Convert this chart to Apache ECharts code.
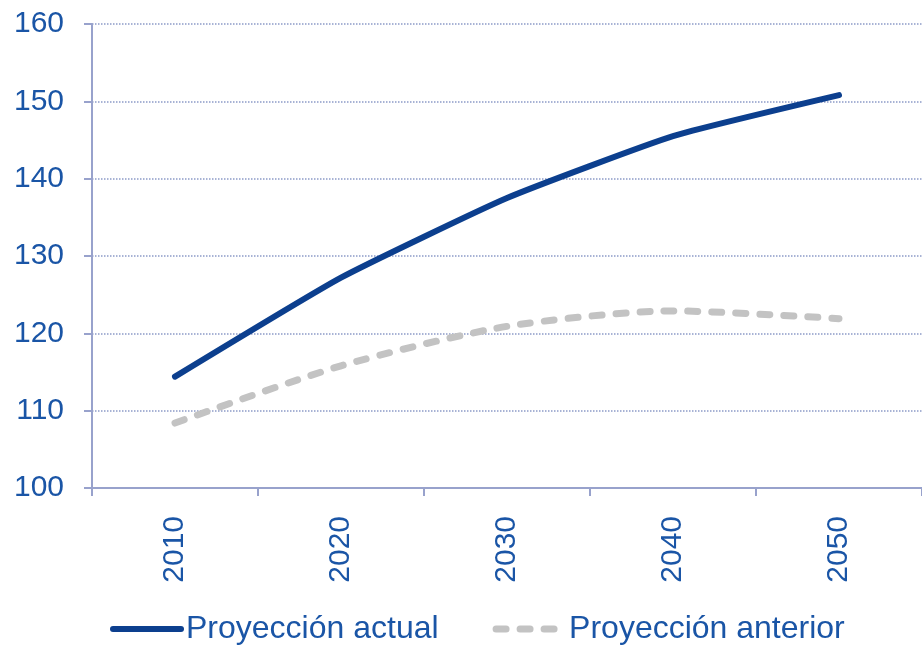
<!DOCTYPE html>
<html>
<head>
<meta charset="utf-8">
<script src="https://cdn.jsdelivr.net/npm/echarts@6/dist/echarts.min.js"></script>
<style>
  html, body { margin: 0; padding: 0; background: #fff; }
  #chart { width: 922px; height: 648px; }
</style>
</head>
<body>
<div id="chart"></div>
<script>
  // años
  var years = ['2010', '2020', '2030', '2040', '2050'];
  // series
  var actual = [114.4, 127.2, 137.5, 145.5, 150.8];
  var anterior = [108.4, 115.8, 120.9, 122.9, 121.9];
  var yTicks = [100, 110, 120, 130, 140, 150, 160];

  var axisColor = '#98A2CC';
  var textColor = '#1A55A6';
  var solidColor = '#0C3F8E';
  var grayColor = '#C3C3C3';

  var myChart = echarts.init(document.getElementById('chart'));
  var option = {
    animation: false,
    grid: { left: 92, right: -2, top: 24, bottom: 160, containLabel: false },
    legend: {
      bottom: 3,
      left: 110,
      padding: 0,
      itemWidth: 68,
      itemHeight: 14,
      itemGap: 54,
      itemStyle: { opacity: 0 },
      textStyle: { color: textColor, fontSize: 32, fontFamily: 'Liberation Sans' },
      data: [
        { name: 'Proyección actual', lineStyle: { width: 6, cap: 'round', color: solidColor } },
        { name: 'Proyección anterior', lineStyle: { width: 7, type: [10, 14], cap: 'round', color: grayColor } }
      ]
    },
    xAxis: {
      type: 'category',
      data: years,
      boundaryGap: true,
      axisLine: { lineStyle: { color: axisColor, width: 2 } },
      axisTick: { show: true, length: 8, inside: false, lineStyle: { color: axisColor, width: 2 } },
      axisLabel: { rotate: 90, margin: 28, color: textColor, fontSize: 30, fontFamily: 'Liberation Sans' },
      splitLine: { show: false }
    },
    yAxis: {
      type: 'value',
      min: yTicks[0],
      max: yTicks[yTicks.length - 1],
      interval: 10,
      axisLine: { show: true, lineStyle: { color: axisColor, width: 2 } },
      axisTick: { show: true, length: 8, lineStyle: { color: axisColor, width: 2 } },
      axisLabel: { margin: 28, color: textColor, fontSize: 30, fontFamily: 'Liberation Sans' },
      splitLine: { show: true, lineStyle: { color: '#8C9BC8', type: 'dotted', width: 1.5 } }
    },
    series: [
      {
        name: 'Proyección actual',
        type: 'line',
        data: actual,
        smooth: 0.15,
        symbol: 'none',
        lineStyle: { color: solidColor, width: 6, cap: 'round' },
        itemStyle: { color: solidColor }
      },
      {
        name: 'Proyección anterior',
        type: 'line',
        data: anterior,
        smooth: 0.25,
        symbol: 'none',
        lineStyle: { color: grayColor, width: 7, type: [10, 14], cap: 'round' },
        itemStyle: { color: grayColor }
      }
    ]
  };
  myChart.setOption(option, true);
</script>
</body>
</html>
